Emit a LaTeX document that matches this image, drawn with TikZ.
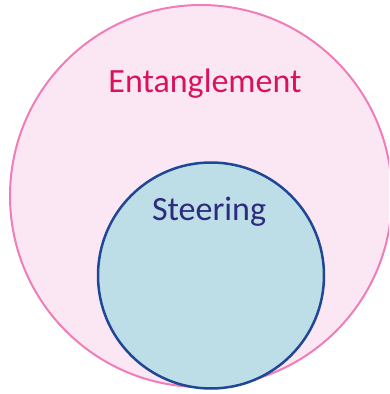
\documentclass[tikz,border=0pt]{standalone}
\usepackage{fontspec}
\setmainfont{Carlito}
\definecolor{pinkfill}{HTML}{FBE7F3}
\definecolor{pinkline}{HTML}{F07CB8}
\definecolor{bluefill}{HTML}{BDDEE6}
\definecolor{blueline}{HTML}{1F4796}
\definecolor{enttext}{HTML}{D9135A}
\definecolor{steertext}{HTML}{2E2A7E}
\tikzset{
  setcircle/.style={circle, inner sep=0pt},
  lbl/.style={inner sep=0pt, anchor=base, font=\fontsize{34}{40}\selectfont}
}
\begin{document}
\begin{tikzpicture}[x=1pt,y=-1pt]
\useasboundingbox (0,0) rectangle (389,394);
\clip (0,0) rectangle (389,394);
\node[setcircle, minimum size=382pt, fill=pinkfill, draw=pinkline, line width=2pt] (ent) at (201,196) {};
\node[setcircle, minimum size=226pt, fill=bluefill, draw=blueline, line width=2.5pt] (steer) at (211,275.5) {};
\node[lbl, text=enttext] (entl) at (205,92) {Entanglement};
\node[lbl, text=steertext] (steerl) at (209,220) {Steering};
\end{tikzpicture}
\end{document}
